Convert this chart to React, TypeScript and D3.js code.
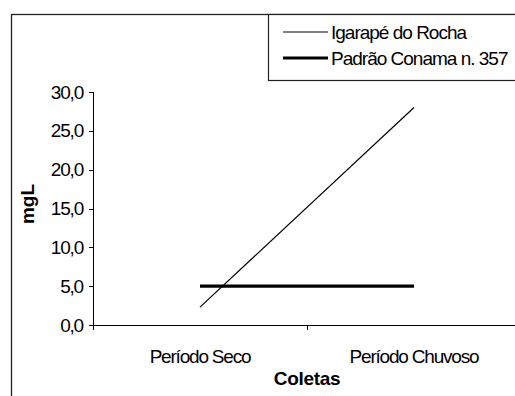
import * as d3 from "d3";

const categories = ["Período Seco", "Período Chuvoso"];
const igarapeValues = [2.3, 28.0];
const conamaValues = [5.0, 5.0];
const yTicks = [0, 5, 10, 15, 20, 25, 30];
const seriesNames = ["Igarapé do Rocha", "Padrão Conama n. 357"];

const width = 515;
const height = 396;
const font = "'Liberation Sans', Arial, sans-serif";
const fs = 19;
const ls = -1.2;

export default function App() {
  const x = d3.scaleBand<string>()
    .domain(categories)
    .range([93, 521])
    .paddingInner(0)
    .paddingOuter(0);

  const y = d3.scaleLinear()
    .domain([0, 30])
    .range([325, 92]);

  const cx = (c: string) => (x(c) ?? 0) + x.bandwidth() / 2;
  const line = d3.line<number>()
    .x((_, i) => cx(categories[i]))
    .y(d => y(d));

  const boundaries = [...categories.map(c => x(c) ?? 0), 521];
  const widths = [1.2, 3.2];

  return (
    <svg
      width={width}
      height={height}
      style={{ position: "absolute", left: 0, top: 0, background: "#fff" }}
      fontFamily={font}
    >
      <rect x={11.5} y={14.5} width={560} height={420} fill="none" stroke="#222" strokeWidth={1.3} />

      {/* y axis */}
      <line x1={93.5} x2={93.5} y1={y(30)} y2={y(0) + 4} stroke="#000" />
      {yTicks.map(t => (
        <g key={t}>
          <line x1={89} x2={93.5} y1={Math.round(y(t)) + 0.5} y2={Math.round(y(t)) + 0.5} stroke="#000" />
          <text x={83} y={y(t)} dy="0.35em" textAnchor="end" fontSize={fs} letterSpacing={ls}>
            {d3.format(".1f")(t).replace(".", ",")}
          </text>
        </g>
      ))}

      {/* x axis */}
      <line x1={93} x2={521} y1={325.5} y2={325.5} stroke="#000" />
      {boundaries.map((b, i) => (
        <line key={i} x1={Math.round(b) + 0.5} x2={Math.round(b) + 0.5} y1={325.5} y2={330} stroke="#000" />
      ))}
      {categories.map(c => (
        <text key={c} x={cx(c)} y={363} textAnchor="middle" fontSize={fs} letterSpacing={ls}>
          {c}
        </text>
      ))}

      <text x={307} y={385} textAnchor="middle" fontSize={19} fontWeight="bold" letterSpacing={-0.3}>
        Coletas
      </text>
      <text
        transform={`translate(34,204) rotate(-90)`}
        textAnchor="middle"
        fontSize={19}
        fontWeight="bold"
      >
        mgL
      </text>

      {/* series */}
      <path d={line(igarapeValues) ?? ""} fill="none" stroke="#000" strokeWidth={widths[0]} />
      <path d={line(conamaValues) ?? ""} fill="none" stroke="#000" strokeWidth={widths[1]} />

      {/* legend */}
      <rect x={268.5} y={14.5} width={300} height={66} fill="#fff" stroke="#222" strokeWidth={1.2} />
      {seriesNames.map((s, i) => (
        <g key={s}>
          <line x1={283} x2={328} y1={32 + i * 26} y2={32 + i * 26} stroke="#000" strokeWidth={widths[i]} />
          <text x={331} y={32 + i * 26} dy="0.35em" fontSize={fs} letterSpacing={-1.0}>
            {s}
          </text>
        </g>
      ))}
    </svg>
  );
}
